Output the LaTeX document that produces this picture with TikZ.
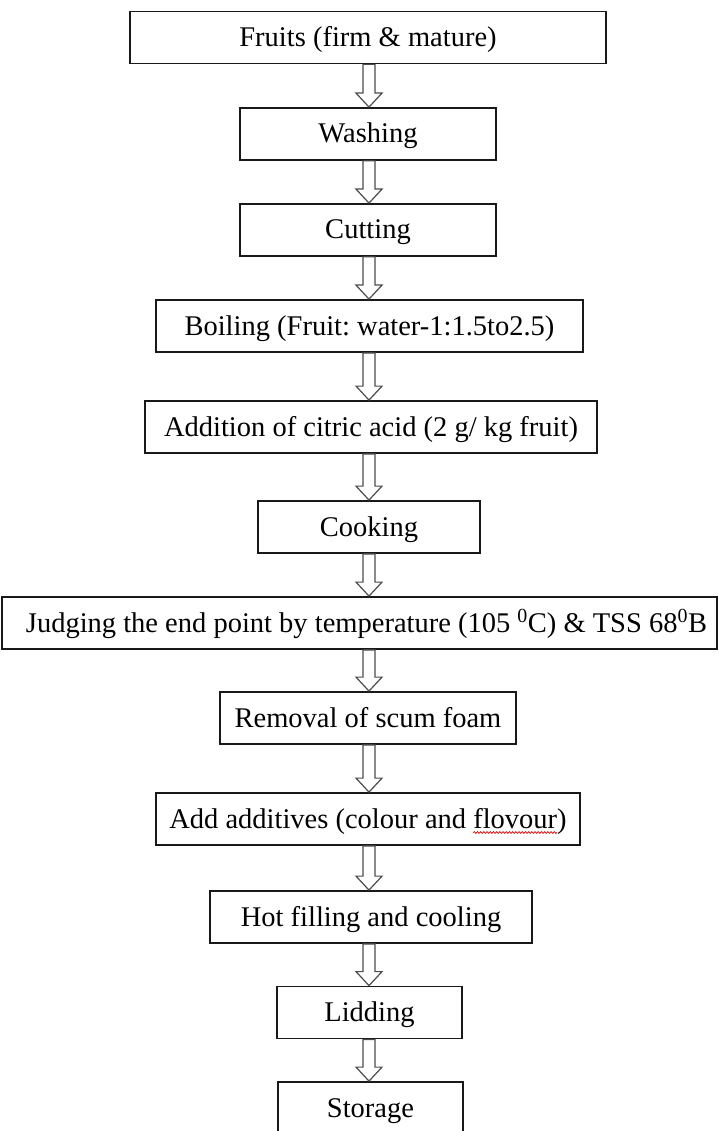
\documentclass[tikz,border=0pt]{standalone}
\usepackage{fontspec}
\setmainfont{Liberation Serif}
\usetikzlibrary{calc,decorations.pathmorphing}
\frenchspacing

% red wavy underline, as left by a spell checker
\newsavebox\wavebox
\newcommand\redwave[1]{%
  \sbox\wavebox{#1}%
  \rlap{\tikz[overlay,baseline=0pt,x=1pt,y=1pt]
    \draw[red!85!black, line width=0.7pt, decorate,
          decoration={snake,amplitude=0.9pt,segment length=3.2pt}]
      (0,-4.5) -- (\wd\wavebox,-4.5);}%
  \usebox\wavebox}

\tikzset{
  stepbox/.style={draw=black!90, line width=1.8pt, fill=white, text=black,
    inner sep=0pt, minimum height=52pt, text height=24pt, text depth=6pt,
    font=\fontsize{28.5}{34}\selectfont},
  hollowarrow/.style={draw=black!70, line width=1.2pt, fill=white, line join=miter},
}

% hollow block arrow from the bottom of one box to the top of the next
\newcommand\flowarrow[2]{%
  \draw[hollowarrow] let \p1=(#1.south), \p2=(#2.north), \p3=(axis) in
    ({\x3-6pt},\y1) -- ({\x3-6pt},{\y2+14pt}) -- ({\x3-13pt},{\y2+14pt})
    -- (\x3,\y2) -- ({\x3+13pt},{\y2+14pt}) -- ({\x3+6pt},{\y2+14pt})
    -- ({\x3+6pt},\y1) -- cycle;}

\begin{document}
\begin{tikzpicture}[x=1pt,y=-1pt]
\useasboundingbox (0,0) rectangle (719,1131);
\clip (0,0) rectangle (719,1131);
\fill[white] (0,0) rectangle (719,1131);

\coordinate (axis) at (369,0);

\node[stepbox, minimum width=476pt] (fruits)   at (368,37.5)   {Fruits (firm \& mature)};
\node[stepbox, minimum width=256pt] (washing)  at (368,134)    {Washing};
\node[stepbox, minimum width=256pt] (cutting)  at (368,230)    {Cutting};
\node[stepbox, minimum width=427pt] (boiling)  at (369.5,326)  {Boiling (Fruit: water-1:1.5to2.5)};
\node[stepbox, minimum width=452pt] (citric)   at (371,427)    {Addition of citric acid (2 g/ kg fruit)};
\node[stepbox, minimum width=222pt] (cooking)  at (369,527)    {Cooking};
\node[stepbox, minimum width=715pt] (judging)  at (359.5,623)  {\hspace*{14pt}Judging the end point by temperature (105 \textsuperscript{0}C) \& TSS 68\textsuperscript{0}B};
\node[stepbox, minimum width=296pt] (scum)     at (368,718)    {Removal of scum foam};
\node[stepbox, minimum width=424pt] (additive) at (368,819)    {Add additives (colour and \redwave{flovour})};
\node[stepbox, minimum width=322pt] (filling)  at (371,917)    {Hot filling and cooling};
\node[stepbox, minimum width=185pt] (lidding)  at (369.5,1012.5) {Lidding};
\node[stepbox, minimum width=185pt] (storage)  at (370.5,1108) {Storage};

\flowarrow{fruits}{washing}
\flowarrow{washing}{cutting}
\flowarrow{cutting}{boiling}
\flowarrow{boiling}{citric}
\flowarrow{citric}{cooking}
\flowarrow{cooking}{judging}
\flowarrow{judging}{scum}
\flowarrow{scum}{additive}
\flowarrow{additive}{filling}
\flowarrow{filling}{lidding}
\flowarrow{lidding}{storage}
\end{tikzpicture}
\end{document}
